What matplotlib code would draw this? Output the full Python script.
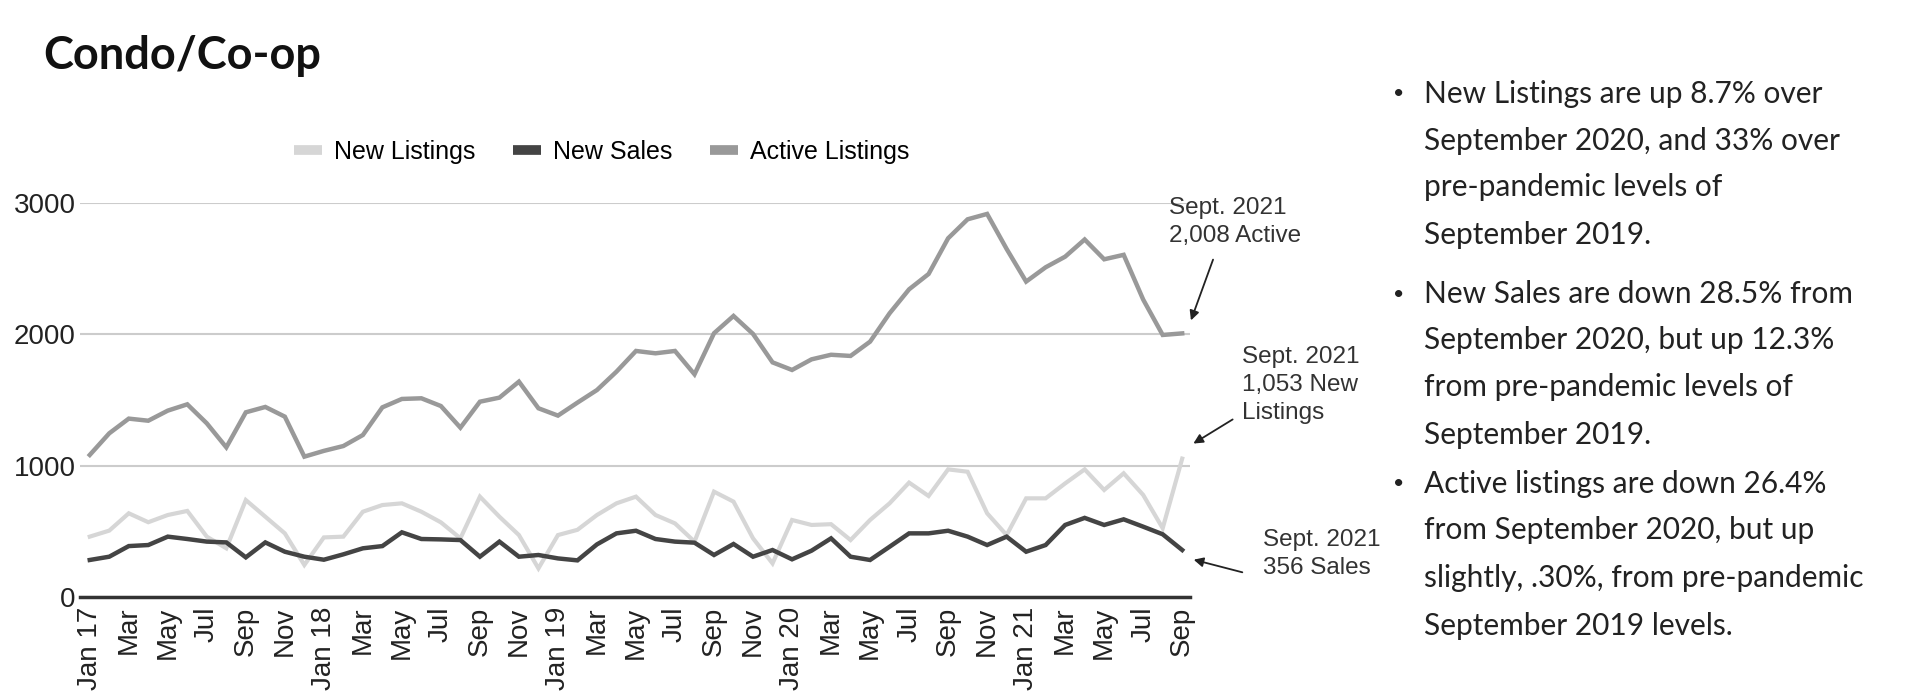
import matplotlib
matplotlib.use("Agg")
import matplotlib.pyplot as plt
from matplotlib.lines import Line2D

# ---------------- data ----------------
new_listings = [458, 504, 636, 568, 623, 654, 458, 369, 737, 610, 483, 242,
                452, 458, 648, 699, 712, 648, 567, 445, 763, 610, 470, 216,
                470, 510, 623, 712, 763, 623, 559, 420, 801, 725, 445, 254,
                585, 547, 553, 432, 585, 712, 870, 768, 971, 953, 636, 470,
                750, 750, 864, 971, 814, 941, 776, 522, 1053]
new_sales = [280, 305, 386, 394, 458, 440, 420, 414, 300, 414, 343, 305,
             282, 323, 369, 386, 491, 440, 437, 432, 305, 420, 305, 318,
             292, 277, 399, 483, 503, 440, 420, 412, 318, 402, 305, 356,
             285, 351, 445, 305, 280, 381, 483, 483, 503, 458, 394, 458,
             343, 394, 547, 601, 547, 590, 534, 476, 356]
active_listings = [1081, 1246, 1358, 1342, 1419, 1467, 1322, 1139, 1406, 1447, 1373, 1068,
                   1112, 1149, 1233, 1444, 1508, 1513, 1454, 1289, 1487, 1518, 1640, 1437,
                   1381, 1480, 1576, 1716, 1874, 1856, 1874, 1696, 2009, 2141, 2004, 1787,
                   1729, 1810, 1845, 1836, 1945, 2161, 2344, 2461, 2733, 2878, 2919, 2652,
                   2403, 2512, 2593, 2724, 2573, 2607, 2266, 1996, 2008]
tick_labels = ["Jan 17", "Mar", "May", "Jul", "Sep", "Nov",
               "Jan 18", "Mar", "May", "Jul", "Sep", "Nov",
               "Jan 19", "Mar", "May", "Jul", "Sep", "Nov",
               "Jan 20", "Mar", "May", "Jul", "Sep", "Nov",
               "Jan 21", "Mar", "May", "Jul", "Sep"]
y_ticks = [0, 1000, 2000, 3000]
series_names = ["New Listings", "New Sales", "Active Listings"]
series_colors = ["#d6d6d6", "#444444", "#999999"]
title = "Condo/Co-op"
bullets = [
    ["New Listings are up 8.7% over", "September 2020, and 33% over",
     "pre-pandemic levels of", "September 2019."],
    ["New Sales are down 28.5% from", "September 2020, but up 12.3%",
     "from pre-pandemic levels of", "September 2019."],
    ["Active listings are down 26.4%", "from September 2020, but up",
     "slightly, .30%, from pre-pandemic", "September 2019 levels."],
]
annotations = [("Sept. 2021\n2,008 Active", active_listings),
               ("Sept. 2021\n1,053 New\nListings", new_listings),
               ("Sept. 2021\n356 Sales", new_sales)]

# ---------------- figure ----------------
W, H = 1920, 699
fig = plt.figure(figsize=(W / 100, H / 100), dpi=100)
fig.patch.set_facecolor("white")

ax_left, ax_right = 80 / W, 1190 / W
ax_bottom, ax_top = 1 - 596.7 / H, 1 - 203.3 / H
ax = fig.add_axes([ax_left, ax_bottom, ax_right - ax_left, ax_top - ax_bottom])

x = list(range(len(active_listings)))
data = [new_listings, new_sales, active_listings]
widths = [3.0, 3.2, 3.2]
for vals, name, col, lw in zip(data, series_names, series_colors, widths):
    ax.plot(x, vals, color=col, lw=lw, label=name, solid_joinstyle="miter",
            clip_on=False, zorder=3)

ax.set_xlim(-0.5, 56.4)
ax.set_ylim(0, 3000)
ax.set_yticks(y_ticks)
ax.set_yticklabels([str(v) for v in y_ticks], fontsize=20, color="#222222",
                   family="Liberation Sans")
ax.set_xticks(list(range(0, len(x), 2)))
ax.set_xticklabels(tick_labels, rotation=90, fontsize=20, color="#222222",
                   family="Liberation Sans", va="top", ha="center")
ax.tick_params(axis="both", length=0)
ax.tick_params(axis="y", pad=3)
ax.tick_params(axis="x", pad=7)
for s in ["top", "right", "left"]:
    ax.spines[s].set_visible(False)
ax.spines["bottom"].set_color("#333333")
ax.spines["bottom"].set_linewidth(2.5)
ax.spines["bottom"].set_zorder(4)
ax.grid(axis="y", color="#cccccc", lw=1.5)
ax.set_axisbelow(True)

# legend
handles = [Line2D([0], [0], color=c, lw=7, solid_capstyle="butt") for c in series_colors]
fig.legend(handles, series_names, loc="center", bbox_to_anchor=(602 / W, 1 - 152 / H),
           ncol=3, frameon=False, prop={"family": "Liberation Sans", "size": 18},
           handlelength=1.1, handletextpad=0.5, columnspacing=1.5)

# annotations
ann_text_pos = [(1169, 222), (1242, 385), (1263, 554)]
ann_arrow_start = [(1214, 257), (1235, 418), (1245, 573)]
ann_arrow_end = [(1190, 323), (1191, 445), (1191, 559)]
for (txt, vals), tp, a0, a1 in zip(annotations, ann_text_pos, ann_arrow_start, ann_arrow_end):
    fig.text(tp[0] / W, 1 - tp[1] / H, txt, fontsize=17.5, color="#333333",
             family="Liberation Sans", ha="left", va="center", linespacing=1.35)
    fig.add_artist(matplotlib.patches.FancyArrowPatch(
        (a0[0] / W, 1 - a0[1] / H), (a1[0] / W, 1 - a1[1] / H),
        transform=fig.transFigure, arrowstyle="-|>", mutation_scale=14,
        color="#222222", lw=1.3))

# title
fig.text(43 / W, 1 - 56 / H, title, fontsize=32.5, fontweight="bold", family="Lato",
         color="#111111", ha="left", va="center")

# bullet text
line_y = [94, 141, 187, 235, 294, 340, 387, 435, 484, 530, 578, 626]
k = 0
for block in bullets:
    for j, line in enumerate(block):
        y = 1 - line_y[k] / H
        if j == 0:
            fig.text(1393 / W, y, "•", fontsize=14, family="Lato", color="#222222",
                     ha="left", va="center")
        fig.text(1424 / W, y, line, fontsize=21.5, family="Lato", color="#222222",
                 ha="left", va="center")
        k += 1

fig.savefig("out.png", dpi=100, facecolor="white")
